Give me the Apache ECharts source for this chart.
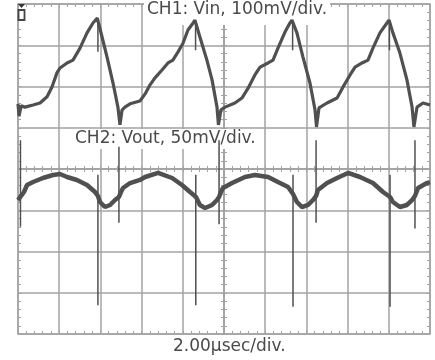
<!DOCTYPE html>
<html><head><meta charset="utf-8">
<script src="https://cdn.jsdelivr.net/npm/echarts@6/dist/echarts.min.js"></script>
<style>html,body{margin:0;padding:0;background:#fff}#c{width:435px;height:360px}</style>
</head><body><div id="c"></div>
<script>
// Time in microseconds (2.00 µs/div, trigger at screen centre)
const ch1Time = [-10.0,-9.95,-9.85,-9.66,-9.27,-8.93,-8.59,-8.35,-8.11,-7.96,-7.62,-7.33,-6.99,-6.65,-6.36,-6.15,-5.92,-5.68,-5.39,-5.15,-5.05,-4.95,-4.81,-4.56,-4.08,-3.83,-3.59,-3.35,-3.01,-2.72,-2.48,-2.23,-1.99,-1.75,-1.50,-1.41,-1.17,-0.83,-0.58,-0.34,-0.27,-0.15,0.05,0.53,0.87,1.17,1.50,1.75,2.14,2.38,2.62,2.96,3.20,3.30,3.54,3.83,4.17,4.42,4.49,4.61,5.00,5.49,5.78,6.12,6.36,6.70,6.99,7.23,7.57,7.91,8.01,8.20,8.54,8.88,9.13,9.22,9.37,9.66,10.0];
// CH1 Vin in mV (100 mV/div, relative to screen centre)
const ch1Mv = [158,128,153,150,155,160,175,199,233,245,257,264,293,330,354,366,320,272,209,150,107,143,150,158,165,182,204,221,240,257,264,284,305,337,354,361,320,264,216,150,107,143,150,160,172,196,228,247,257,264,293,332,354,361,330,272,209,143,102,148,160,172,199,228,247,257,264,293,330,354,361,330,281,216,150,102,150,160,155];
// CH1 narrow glitches at the waveform peaks
const ch1SpikeTime = [-6.12,-1.38,3.33,8.03];
const ch1SpikeTop = [366,361,361,361];
const ch1SpikeBottom = [284,288,288,288];

// CH2 Vout in mV (50 mV/div, relative to screen centre)
const ch2Time = [-10.0,-9.85,-9.71,-9.56,-9.27,-8.79,-8.30,-7.96,-7.62,-7.14,-6.65,-6.26,-6.12,-6.02,-5.78,-5.53,-5.29,-5.10,-5.00,-4.90,-4.56,-4.08,-3.83,-3.20,-2.52,-2.04,-1.65,-1.36,-1.17,-0.92,-0.58,-0.34,-0.24,-0.15,-0.05,0.39,1.02,1.50,2.14,2.62,3.11,3.35,3.54,3.79,4.08,4.32,4.47,4.56,5.00,5.49,6.02,6.60,7.23,7.72,8.06,8.20,8.54,8.88,9.13,9.27,9.42,9.85,10.0];
const ch2Mv = [-37.6,-32.7,-27.9,-19.4,-15.8,-10.9,-7.3,-6.1,-9.7,-13.3,-19.4,-27.9,-32.7,-40,-46.1,-43.6,-37.6,-33.9,-27.9,-23,-17,-13.3,-9.7,-4.8,-10.9,-19.4,-27.9,-33.9,-43.6,-47.3,-43.6,-37.6,-33.9,-27.9,-23,-17,-9.7,-7.3,-9.7,-15.8,-21.8,-30.3,-40,-46.1,-43.6,-37.6,-32.7,-25.5,-17,-10.9,-4.8,-9.7,-17,-27.9,-33.9,-40,-46.1,-43.6,-37.6,-32.7,-23,-17,-15.8];
// CH2 switching spikes (upward at Vin minima, downward at Vin peaks)
const ch2SpikeTime = [-9.88,-6.12,-5.10,-1.37,-0.24,3.35,4.47,8.06,9.27];
const ch2SpikeTop = [35,-7,27,-7,35,-7,35,-7,35];
const ch2SpikeBottom = [-70,-165,-65,-165,-67,-167,-65,-167,-72];

const GRID = '#a3a3a3';
const TRACE = '#505050';
const TXT = '#4a4a4a';
const rect = {left:18, right:5, top:4, bottom:26};

function zip(t, v){ return t.map((x,i)=>[x, v[i]]); }
function segs(t, a, b){ const o=[]; t.forEach((x,i)=>{ o.push([x,a[i]],[x,b[i]],[x,'-']); }); return o; }

function xAx(grid, pos, onZero, inside, split){
  return {type:'value', gridIndex:grid, position:pos, min:-10, max:10, interval:2,
    axisLabel:{show:false}, splitLine:{show:split, lineStyle:{color:GRID, width:1.5}},
    axisLine:{show:true, onZero:onZero, lineStyle:{color:GRID, width:1.5}},
    axisTick:{show:true, inside:inside, length:3, lineStyle:{color:GRID, width:1}},
    minorTick:{show:true, splitNumber:5, length:3, lineStyle:{color:GRID, width:1}}};
}
function yAx(grid, pos, onZero, inside, split, min, max, interval){
  return {type:'value', gridIndex:grid, position:pos, min:min, max:max, interval:interval,
    axisLabel:{show:false}, splitLine:{show:split, lineStyle:{color:GRID, width:1.5}},
    axisLine:{show:true, onZero:onZero, lineStyle:{color:GRID, width:1.5}},
    axisTick:{show:true, inside:inside, length:3, lineStyle:{color:GRID, width:1}},
    minorTick:{show:true, splitNumber:5, length:3, lineStyle:{color:GRID, width:1}}};
}

const chart = echarts.init(document.getElementById('c'));
const font = {fontFamily:'DejaVu Sans', fontSize:17, color:TXT, fontWeight:'normal'};
chart.setOption({
  animation:false,
  backgroundColor:'#fff',
  grid:[Object.assign({},rect), Object.assign({},rect), Object.assign({},rect)],
  xAxis:[
    xAx(0,'bottom',false,true,true),
    xAx(0,'top',false,true,false),
    xAx(1,'bottom',true,true,false),
    xAx(2,'bottom',true,false,false)
  ],
  yAxis:[
    yAx(0,'left',false,true,true,-400,400,100),
    yAx(0,'right',false,true,false,-200,200,50),
    yAx(1,'left',true,true,false,-4,4,1),
    yAx(2,'left',true,false,false,-4,4,1)
  ],
  title:[
    {text:'CH1: Vin, 100mV/div.', left:144, top:0, padding:[1,3,7,3], backgroundColor:'#fff', z:1, textStyle:font},
    {text:'CH2: Vout, 50mV/div.', left:72, top:129, padding:[1,3,2,3], backgroundColor:'#fff', z:1, textStyle:font},
    {text:'2.00µsec/div.', left:173, top:338, padding:[0,0,0,0], textStyle:font}
  ],
  graphic:[
    {type:'polygon', shape:{points:[[18,4],[25,4],[21.5,8]]}, style:{fill:'#333'}, z:10},
    {type:'rect', shape:{x:18.5,y:10,width:6,height:10}, style:{fill:'#fff',stroke:'#444',lineWidth:1.8}, z:10}
  ],
  series:[
    {name:'CH1', type:'line', xAxisIndex:0, yAxisIndex:0, showSymbol:false, data:zip(ch1Time,ch1Mv), lineStyle:{color:TRACE,width:3.2}, z:3},
    {name:'CH1 spikes', type:'line', xAxisIndex:0, yAxisIndex:0, showSymbol:false, data:segs(ch1SpikeTime,ch1SpikeTop,ch1SpikeBottom), lineStyle:{color:TRACE,width:1.5}, z:3},
    {name:'CH2', type:'line', xAxisIndex:0, yAxisIndex:1, showSymbol:false, data:zip(ch2Time,ch2Mv), lineStyle:{color:TRACE,width:4.5}, z:3},
    {name:'CH2 spikes', type:'line', xAxisIndex:0, yAxisIndex:1, showSymbol:false, data:segs(ch2SpikeTime,ch2SpikeTop,ch2SpikeBottom), lineStyle:{color:TRACE,width:1.5}, z:3}
  ]
});
</script>
</body></html>
